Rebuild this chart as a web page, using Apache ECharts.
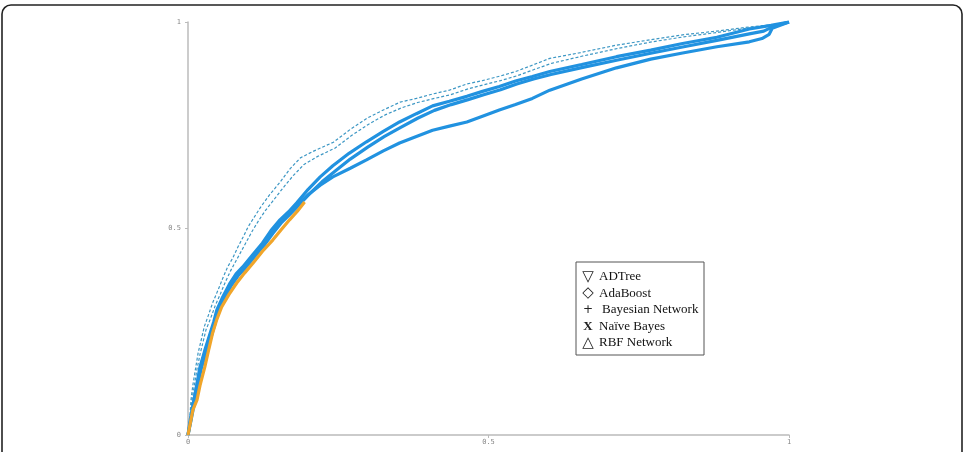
<!DOCTYPE html>
<html>
<head>
<meta charset="utf-8">
<script src="https://cdn.jsdelivr.net/npm/echarts@6/dist/echarts.min.js"></script>
<style>html,body{margin:0;padding:0;background:#fff}#c{width:965px;height:452px}</style>
</head>
<body>
<div id="c"></div>
<script>
// ---- data (FPR, TPR) ----
var dashedA = [[0,0],[0.003,0.04],[0.005,0.085],[0.008,0.12],[0.013,0.165],[0.017,0.2],[0.022,0.23],[0.027,0.262],[0.033,0.286],[0.041,0.32],[0.05,0.351],[0.058,0.38],[0.066,0.407],[0.075,0.43],[0.083,0.455],[0.092,0.48],[0.1,0.504],[0.11,0.527],[0.121,0.552],[0.135,0.58],[0.153,0.612],[0.17,0.645],[0.187,0.671],[0.21,0.688],[0.242,0.709],[0.27,0.74],[0.299,0.768],[0.325,0.787],[0.353,0.806],[0.38,0.815],[0.408,0.826],[0.435,0.835],[0.464,0.85],[0.49,0.858],[0.519,0.869],[0.545,0.88],[0.574,0.896],[0.602,0.912],[0.65,0.925],[0.713,0.944],[0.77,0.957],[0.823,0.969],[0.88,0.978],[0.934,0.988],[0.97,0.993],[1,1]];
var dashedB = [[0,0],[0.004,0.035],[0.006,0.08],[0.01,0.115],[0.015,0.16],[0.02,0.195],[0.025,0.225],[0.03,0.255],[0.037,0.28],[0.045,0.312],[0.054,0.342],[0.062,0.37],[0.071,0.398],[0.08,0.422],[0.089,0.446],[0.098,0.47],[0.107,0.494],[0.117,0.518],[0.128,0.542],[0.142,0.568],[0.158,0.598],[0.175,0.628],[0.193,0.655],[0.215,0.674],[0.245,0.695],[0.272,0.725],[0.3,0.752],[0.328,0.775],[0.355,0.792],[0.382,0.805],[0.41,0.815],[0.437,0.824],[0.466,0.838],[0.492,0.848],[0.52,0.858],[0.548,0.87],[0.576,0.885],[0.605,0.9],[0.655,0.917],[0.715,0.936],[0.772,0.952],[0.825,0.964],[0.882,0.975],[0.936,0.986],[0.972,0.992],[1,1]];
var thickC = [[0,0],[0.004,0.04],[0.01,0.085],[0.015,0.125],[0.02,0.165],[0.028,0.205],[0.037,0.247],[0.043,0.275],[0.048,0.303],[0.058,0.335],[0.07,0.368],[0.08,0.39],[0.091,0.407],[0.108,0.437],[0.124,0.465],[0.138,0.495],[0.153,0.521],[0.167,0.54],[0.181,0.562],[0.2,0.595],[0.22,0.625],[0.241,0.652],[0.268,0.682],[0.297,0.71],[0.325,0.735],[0.352,0.758],[0.38,0.778],[0.407,0.797],[0.435,0.808],[0.464,0.82],[0.49,0.832],[0.518,0.844],[0.545,0.857],[0.573,0.868],[0.602,0.88],[0.655,0.897],[0.713,0.916],[0.77,0.932],[0.823,0.948],[0.88,0.963],[0.934,0.983],[0.97,0.992],[1,1]];
var thickD = [[0,0],[0.005,0.035],[0.011,0.08],[0.016,0.12],[0.022,0.16],[0.03,0.2],[0.039,0.24],[0.045,0.27],[0.05,0.298],[0.06,0.33],[0.072,0.362],[0.083,0.385],[0.094,0.402],[0.111,0.432],[0.127,0.46],[0.141,0.488],[0.156,0.515],[0.17,0.535],[0.184,0.556],[0.203,0.585],[0.223,0.613],[0.244,0.638],[0.27,0.668],[0.299,0.697],[0.327,0.723],[0.354,0.745],[0.382,0.767],[0.41,0.786],[0.438,0.8],[0.466,0.812],[0.492,0.824],[0.52,0.836],[0.547,0.85],[0.575,0.862],[0.604,0.873],[0.657,0.89],[0.715,0.908],[0.772,0.925],[0.825,0.94],[0.882,0.956],[0.936,0.972],[0.958,0.978],[0.975,0.99],[1,1]];
var thickE = [[0,0],[0.005,0.04],[0.01,0.085],[0.016,0.125],[0.021,0.165],[0.029,0.205],[0.038,0.245],[0.044,0.272],[0.049,0.3],[0.059,0.332],[0.071,0.365],[0.082,0.388],[0.093,0.405],[0.109,0.435],[0.125,0.462],[0.14,0.49],[0.155,0.518],[0.169,0.538],[0.183,0.558],[0.2,0.582],[0.22,0.605],[0.241,0.625],[0.27,0.646],[0.297,0.666],[0.325,0.688],[0.352,0.707],[0.38,0.723],[0.407,0.738],[0.435,0.748],[0.464,0.758],[0.49,0.772],[0.518,0.787],[0.545,0.8],[0.573,0.815],[0.602,0.835],[0.655,0.862],[0.713,0.889],[0.77,0.91],[0.823,0.925],[0.88,0.94],[0.934,0.952],[0.955,0.96],[0.967,0.97],[0.972,0.985],[1,1]];
var orangeF = [[0,0],[0.004,0.03],[0.008,0.06],[0.015,0.085],[0.02,0.12],[0.028,0.165],[0.035,0.21],[0.041,0.247],[0.048,0.28],[0.056,0.31],[0.068,0.34],[0.081,0.368],[0.094,0.392],[0.108,0.416],[0.124,0.445],[0.141,0.472],[0.155,0.497],[0.169,0.521],[0.182,0.542],[0.194,0.564]];

var axisTicks = [0, 0.5, 1];
var legendMarks = ['\u25BD', '\u25C7', '+', 'X', '\u25B3'];
var legendNames = ['ADTree', 'AdaBoost', 'Bayesian Network', 'Na\u00EFve Bayes', 'RBF Network'];

// ---- chart ----
var chart = echarts.init(document.getElementById('c'), null, {renderer: 'canvas'});

function thin(name, data) {
  return {name: name, type: 'line', data: data, showSymbol: false, symbol: 'none',
    lineStyle: {color: '#3d97c4', width: 1.2, type: [3, 2]}, z: 3, animation: false};
}
function thick(name, data, color, z) {
  return {name: name, type: 'line', data: data, showSymbol: false, symbol: 'none',
    lineStyle: {color: color, width: 3.2}, z: z, animation: false};
}

var legendChildren = [{
  type: 'rect', shape: {x: 576, y: 262, width: 128, height: 93},
  style: {fill: '#fff', stroke: '#555', lineWidth: 1}
}];
for (var i = 0; i < legendNames.length; i++) {
  var cy = 277 + i * 16.5;
  var mark = legendMarks[i];
  var markFont = mark === 'X' ? 'bold 13px "Liberation Serif"' : (mark === '+' ? '12px "DejaVu Sans"' : '15px "DejaVu Sans"');
  legendChildren.push({
    type: 'text', x: 588, y: cy,
    style: {text: mark, font: markFont, fill: '#222', align: 'center', verticalAlign: 'middle'}
  });
  legendChildren.push({
    type: 'text', x: 599 + (i === 2 ? 3 : 0), y: cy,
    style: {text: legendNames[i], font: '13px "Liberation Serif"', fill: '#111', align: 'left', verticalAlign: 'middle'}
  });
}

var option = {
  backgroundColor: '#fff',
  animation: false,
  grid: {left: 188, right: 176, top: 22, bottom: 17, containLabel: false},
  xAxis: {
    type: 'value', min: 0, max: 1, interval: 0.5,
    axisLine: {show: true, lineStyle: {color: '#bbb', width: 1.5}},
    axisTick: {show: true, length: 3, lineStyle: {color: '#bbb'}},
    axisLabel: {color: '#888', fontSize: 7, fontFamily: 'DejaVu Sans Mono', margin: 4,
      formatter: function (v) { return axisTicks.indexOf(v) >= 0 ? String(v) : ''; }},
    splitLine: {show: false}
  },
  yAxis: {
    type: 'value', min: 0, max: 1, interval: 0.5,
    axisLine: {show: true, lineStyle: {color: '#bbb', width: 1.5}},
    axisTick: {show: true, length: 3, lineStyle: {color: '#bbb'}},
    axisLabel: {color: '#888', fontSize: 7, fontFamily: 'DejaVu Sans Mono', margin: 7,
      formatter: function (v) { return axisTicks.indexOf(v) >= 0 ? String(v) : ''; }},
    splitLine: {show: false}
  },
  series: [
    thick('C', thickC, '#2192e0', 4),
    thick('D', thickD, '#2192e0', 4),
    thick('E', thickE, '#2192e0', 4),
    thin('A', dashedA),
    thin('B', dashedB),
    thick('F', orangeF, '#f0a52a', 5)
  ],
  graphic: [
    {type: 'rect', shape: {x: 2, y: 5, width: 960, height: 470, r: 9}, silent: true,
      style: {fill: 'none', stroke: '#222', lineWidth: 1.6}, z: 100},
    {type: 'group', children: legendChildren, z: 50}
  ]
};
chart.setOption(option);
</script>
</body>
</html>
